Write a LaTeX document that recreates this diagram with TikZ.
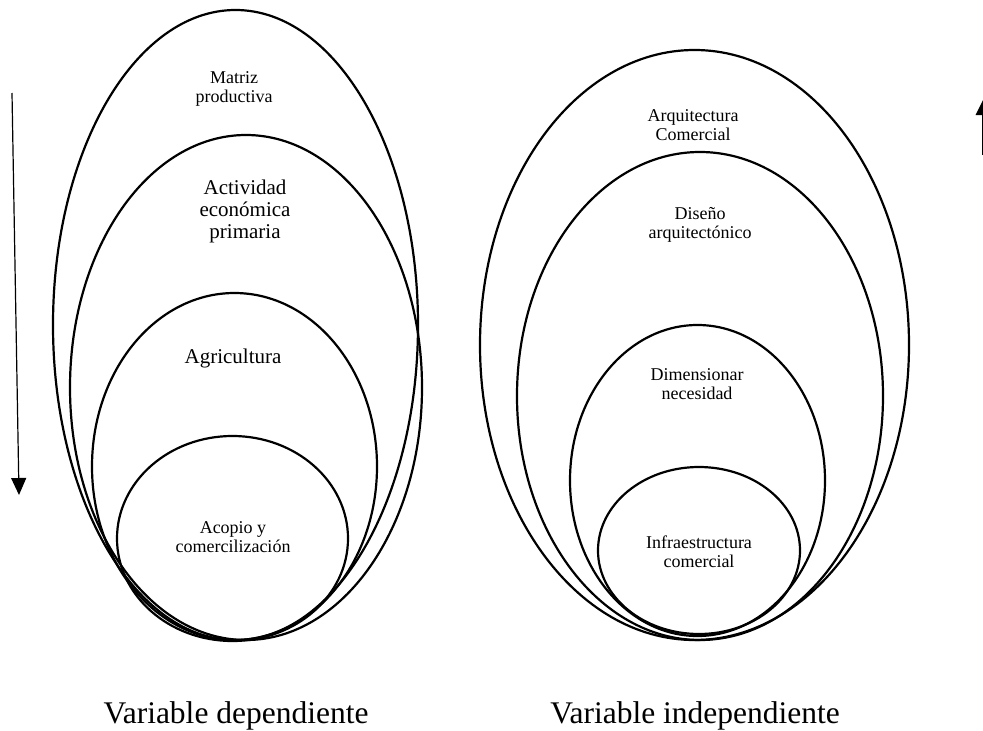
\documentclass[tikz,border=0pt]{standalone}
\usepackage{fontspec}
\setmainfont{Liberation Serif}
\usetikzlibrary{shapes.geometric, arrows.meta}
\tikzset{nivel/.style={draw, ellipse, line width=2.2pt, inner sep=0pt},
    texto/.style={align=center, font=\fontsize{18}{19}\selectfont},
    textogrande/.style={align=center, font=\fontsize{21}{22}\selectfont},
    titulo/.style={anchor=base, font=\fontsize{31.5}{34}\selectfont},
    flecha/.style={-{Triangle[width=15pt,length=17pt]}, line width=1.2pt}}

\begin{document}
\begin{tikzpicture}[x=1pt, y=-1pt]
            \useasboundingbox (0,0) rectangle (983,731);
            % variable dependiente
            \node[nivel, minimum width=365pt, minimum height=630pt] (matriz) at (235.5,325) {};
            \node[nivel, minimum width=352pt, minimum height=505pt] (actividad) at (246,387.5) {};
            \node[nivel, minimum width=285pt, minimum height=347pt] (agricultura) at (234.5,466.5) {};
            \node[nivel, minimum width=231pt, minimum height=205pt] (acopio) at (232.5,538.5) {};
            \node[texto] (tmatriz) at (234,89) {Matriz\\productiva};
            \node[textogrande] (tactividad) at (245,211.5) {Actividad\\económica\\primaria};
            \node[textogrande] (tagricultura) at (233,358) {Agricultura};
            \node[texto] (tacopio) at (233,537.5) {Acopio y\\comercilización};
            % variable independiente
            \node[nivel, minimum width=429pt, minimum height=590pt] (arquitectura) at (694.5,345) {};
            \node[nivel, minimum width=366pt, minimum height=488pt] (diseno) at (700,396) {};
            \node[nivel, minimum width=255pt, minimum height=311pt] (dimensionar) at (697.5,480.5) {};
            \node[nivel, minimum width=202pt, minimum height=167pt] (infra) at (699,550.5) {};
            \node[texto] (tarquitectura) at (693,125.5) {Arquitectura\\Comercial};
            \node[texto] (tdiseno) at (700,225) {Diseño\\arquitectónico};
            \node[texto] (tdimensionar) at (697,384.5) {Dimensionar\\necesidad};
            \node[texto] (tinfra) at (699,552) {Infraestructura\\comercial};
            % titulos
            \node[titulo] (dependiente) at (236,723) {Variable dependiente};
            \node[titulo] (independiente) at (695,723) {Variable independiente};
            % flechas
            \coordinate (bajaini) at (12,93);
            \coordinate (bajafin) at (19,495);
            \draw[flecha] (bajaini) -- (bajafin);
            \coordinate (subeini) at (983.5,155);
            \coordinate (subefin) at (983.5,99);
            \draw[flecha, line width=3pt, -{Triangle[width=15pt,length=16pt]}] (subeini) -- (subefin);
        \end{tikzpicture}
\end{document}
